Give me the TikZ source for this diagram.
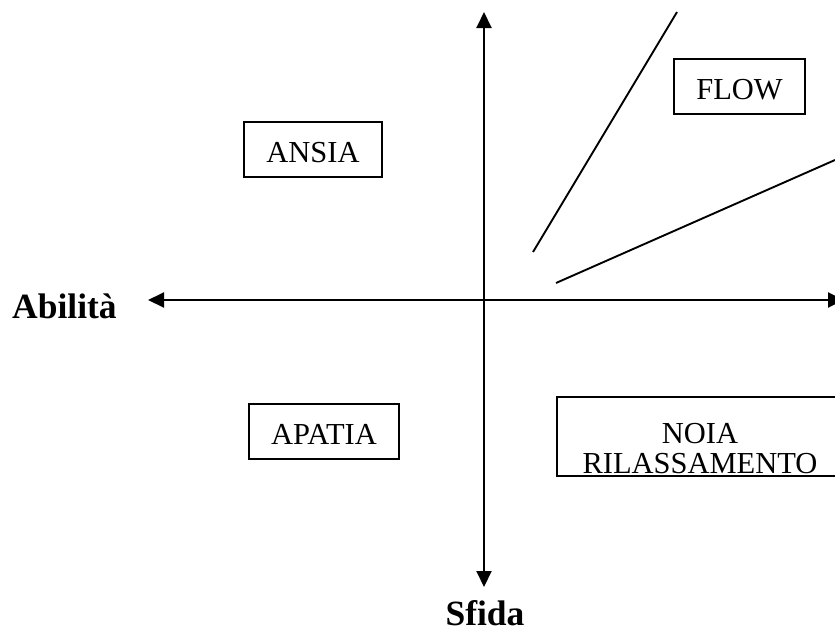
\documentclass[tikz,border=0pt]{standalone}
\usepackage{fontspec}
\setmainfont{Liberation Serif}
\usetikzlibrary{arrows.meta,calc,positioning}

\begin{document}
\begin{tikzpicture}[
    x=1pt, y=-1pt,
    %styles
    axis/.style={line width=1.9pt,
        {Triangle[length=16pt,width=15pt]}-{Triangle[length=16pt,width=15pt]}},
    channel line/.style={line width=1.9pt},
    state text/.style={font=\fontsize{30.5}{30}\selectfont},
    state box/.style={state text, draw, line width=1.9pt, rectangle,
        inner xsep=22pt, minimum height=55pt, text height=25pt, text depth=0pt},
    axis label/.style={font=\fontsize{35.5}{36}\selectfont\bfseries, inner sep=0pt},
  ]
  \useasboundingbox (0,0) rectangle (835,635);
  \clip (0,0) rectangle (835,635);

  %axes
  \coordinate (origin) at (484,300);
  \coordinate (abil end) at (148,300);
  \coordinate (abil far) at (844,300);
  \coordinate (sfida top) at (484,12);
  \coordinate (sfida end) at (484,587);
  \draw[axis] (abil end) -- (abil far);
  \draw[axis] (sfida top) -- (sfida end);
  \node[axis label, anchor=base west] (abilita) at (12,318) {Abilità};
  \node[axis label, anchor=base] (sfida) at (485,625) {Sfida};

  %flow channel
  \coordinate (upper low) at (533,252);
  \coordinate (upper high) at (677,12);
  \coordinate (lower low) at (556,283);
  \coordinate (lower high) at (835,160);
  \draw[channel line] (upper low) -- (upper high);
  \draw[channel line] (lower low) -- (lower high);

  %states
  \node[state box] (ansia) at (313,149.5) {ANSIA};
  \node[state box] (flow) at (739.5,86.5) {FLOW};
  \node[state box] (apatia) at (324,431.5) {APATIA};
  \node[state box, minimum width=288pt, minimum height=79pt, anchor=north west]
    (noia) at (556,396) {};
  \node[state text, align=center, inner sep=0pt, anchor=south]
    (noia text) at (700,474) {NOIA\\RILASSAMENTO};
\end{tikzpicture}
\end{document}
